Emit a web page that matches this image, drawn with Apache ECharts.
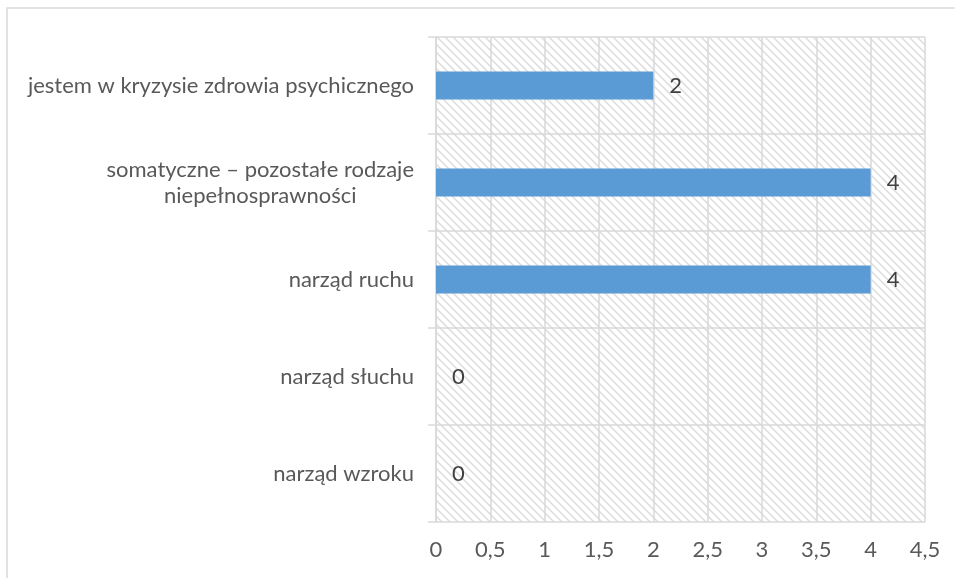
<!DOCTYPE html>
<html>
<head>
<meta charset="utf-8">
<script src="https://cdn.jsdelivr.net/npm/echarts@6/dist/echarts.min.js"></script>
<style>html,body{margin:0;padding:0;background:#fff;}#c{width:955px;height:578px;}</style>
</head>
<body>
<div id="c"></div>
<script>
const categories = [
  'jestem w kryzysie zdrowia psychicznego',
  'somatyczne – pozostałe rodzaje\nniepełnosprawności',
  'narząd ruchu',
  'narząd słuchu',
  'narząd wzroku'
];
const values = [2, 4, 4, 0, 0];
const xTicks = { min: 0, max: 4.5, interval: 0.5 };

const FONT = 'Lato';
const FS = 22;
const TXT = '#595959';
const GRIDC = '#d9d9d9';

// hatch pattern
const pc = document.createElement('canvas');
pc.width = 8; pc.height = 8;
const g = pc.getContext('2d');
g.fillStyle = '#ffffff'; g.fillRect(0, 0, 8, 8);
g.strokeStyle = '#dcdcdc'; g.lineWidth = 1.5;
g.beginPath();
g.moveTo(-2, -2); g.lineTo(10, 10);
g.moveTo(-10, -2); g.lineTo(2, 10);
g.moveTo(6, -2); g.lineTo(18, 10);
g.stroke();

const chart = echarts.init(document.getElementById('c'), null, { renderer: 'canvas' });
chart.setOption({
  animation: false,
  backgroundColor: '#ffffff',
  graphic: [{
    type: 'rect', z: -10, silent: true,
    shape: { x: 7, y: 8, width: 1200, height: 800 },
    style: { fill: 'none', stroke: GRIDC, lineWidth: 1.5 }
  }],
  grid: {
    left: 436, right: 30, top: 37, bottom: 56,
    show: true, borderWidth: 0,
    backgroundColor: { image: pc, repeat: 'repeat' }
  },
  xAxis: {
    type: 'value', min: xTicks.min, max: xTicks.max, interval: xTicks.interval,
    axisLine: { show: false }, axisTick: { show: false },
    splitLine: { show: true, lineStyle: { color: GRIDC, width: 1.5 } },
    axisLabel: {
      margin: 17, fontFamily: FONT, fontSize: FS, color: TXT,
      formatter: v => String(v).replace('.', ',')
    }
  },
  yAxis: {
    type: 'category', inverse: true, data: categories,
    axisLine: { show: true, lineStyle: { color: GRIDC, width: 1.5 } },
    axisTick: { show: true, length: 8, lineStyle: { color: GRIDC, width: 1.5 } },
    splitLine: { show: true, lineStyle: { color: GRIDC, width: 1.5 } },
    axisLabel: {
      margin: 22, fontFamily: FONT, fontSize: FS, color: TXT, lineHeight: 26,
      formatter: v => v.split('\n').map(s => '{c|' + s + '}').join('\n'),
      rich: { c: { align: 'center', fontFamily: FONT, fontSize: FS, color: TXT, lineHeight: 26 } }
    }
  },
  series: [{
    type: 'bar', data: values, barWidth: 28,
    itemStyle: { color: '#5B9BD5' },
    label: { show: true, position: 'right', distance: 16, fontFamily: FONT, fontSize: FS, color: '#404040' }
  }]
});
</script>
</body>
</html>
